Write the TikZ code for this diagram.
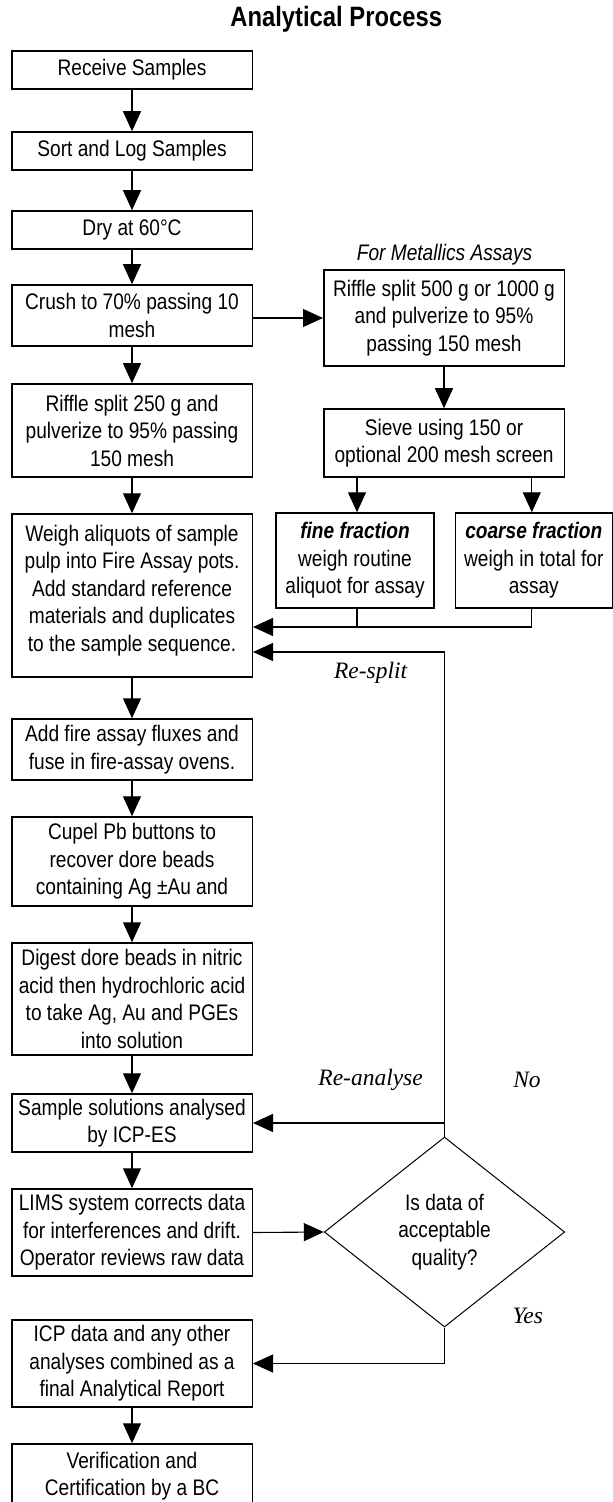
\documentclass[tikz,border=0pt]{standalone}
\usepackage{fontspec}
\setmainfont{Liberation Sans}[FakeStretch=0.85]
\newfontfamily\labelfont{Liberation Serif}
\usetikzlibrary{arrows.meta,shapes.geometric}
\begin{document}
\begin{tikzpicture}[x=0.5pt,y=-0.5pt,
  every node/.style={font=\fontsize{11.25}{13.75}\selectfont},
  box/.style={draw, line width=0.75pt, inner sep=0pt, align=center, minimum width=120.25pt},
  arr/.style={-{Triangle[length=10pt,width=9pt]}, line width=0.55pt},
  ln/.style={line width=0.55pt},
  lab/.style={font=\labelfont\itshape\fontsize{11.75}{13}\selectfont},
  meta/.style={font=\itshape\fontsize{11.25}{13}\selectfont},
  ttl/.style={font=\bfseries\fontsize{14}{16}\selectfont},
]
\useasboundingbox (0,0) rectangle (613,1502);
\clip (0,0) rectangle (613,1502);

\node[ttl] (title) at (336.2,19) {Analytical Process};

\node[box, minimum height=19pt] (n1) at (132,70) {Receive Samples};
\node[box, minimum height=19pt] (n2) at (132,151) {Sort and Log Samples};
\node[box, minimum height=19pt] (n3) at (132,230) {Dry at 60°C};
\node[box, minimum height=30.5pt] (n4) at (132,315.5) {Crush to 70\% passing 10\\mesh};
\node[box, minimum height=46.5pt] (n5) at (132,430.5) {Riffle split 250 g and\\pulverize to 95\% passing\\150 mesh};
\node[box, minimum height=81.5pt] (n6) at (132,595.5) {Weigh aliquots of sample\\pulp into Fire Assay pots.\\Add standard reference\\materials and duplicates\\to the sample sequence.\\[-6.5pt]\mbox{}};
\node[box, minimum height=30.5pt] (n7) at (132,749.5) {Add fire assay fluxes and\\fuse in fire-assay ovens.};
\node[box, minimum height=44.5pt] (n8) at (132,861.5) {Cupel Pb buttons to\\recover dore beads\\containing Ag ±Au and};
\node[box, minimum height=56pt] (n9) at (132,999) {Digest dore beads in nitric\\acid then hydrochloric acid\\to take Ag, Au and PGEs\\into solution};
\node[box, minimum height=29pt] (n10) at (132,1123) {Sample solutions analysed\\by ICP-ES};
\node[box, minimum height=43.5pt] (n11) at (132,1232.5) {LIMS system corrects data\\for interferences and drift.\\Operator reviews raw data};
\node[box, minimum height=43.5pt] (n12) at (132,1363.5) {ICP data and any other\\analyses combined as a\\final Analytical Report};
\node[box, minimum height=32.25pt] (n13) at (132,1476.25) {Verification and\\Certification by a BC};

\node[meta] (metalabel) at (444.5,255) {For Metallics Assays};
\node[box, minimum height=48pt] (r1) at (444,318) {Riffle split 500 g or 1000 g\\and pulverize to 95\%\\passing 150 mesh};
\node[box, minimum height=34pt] (r2) at (444,443) {Sieve using 150 or\\optional 200 mesh screen};
\node[box, minimum width=79pt, minimum height=47.5pt] (fine) at (355,560.5) {\textbf{\textit{fine fraction}}\\weigh routine\\aliquot for assay};
\node[box, minimum width=78.5pt, minimum height=47.5pt] (coarse) at (533.8,560.5) {\textbf{\textit{coarse fraction}}\\weigh in total for\\assay};

\node[draw, diamond, line width=0.5pt, inner sep=0pt, align=center, minimum width=120.2pt, minimum height=95pt] (dq) at (444.5,1232) {Is data of\\acceptable\\quality?};

\node[lab] (lresplit) at (370.6,673) {Re-split};
\node[lab] (lreanalyse) at (370.6,1080) {Re-analyse};
\node[lab] (lno) at (527,1080) {No};
\node[lab] (lyes) at (527.8,1316) {Yes};

\foreach \a/\b in {n1/n2,n2/n3,n3/n4,n4/n5,n5/n6,n6/n7,n7/n8,n8/n9,n9/n10,n10/n11,n12/n13}
  \draw[arr] (\a) -- (\b);

\draw[arr] (n4.east |- r1.west) -- (r1.west);
\draw[arr] (r1) -- (r2);
\draw[arr] ([xshift=1pt]fine.north |- r2.south) -- ([xshift=1pt]fine.north);
\draw[arr] ([xshift=-1pt]coarse.north |- r2.south) -- ([xshift=-1pt]coarse.north);
\coordinate (my) at (0,627);
\draw[ln] ([xshift=1pt]fine.south) -- ([xshift=1pt]fine.south |- my);
\draw[arr] ([xshift=-1pt]coarse.south) |- (n6.east |- my);
\coordinate (ry) at (0,652);
\draw[arr] (dq.north) -- (dq.north |- ry) -- (n6.east |- ry);
\draw[arr] (dq.north |- n10.east) -- (n10.east);
\draw[arr] (n11.east) -- (dq.west);
\draw[arr] (dq.south) |- (n12.east);
\end{tikzpicture}
\end{document}
